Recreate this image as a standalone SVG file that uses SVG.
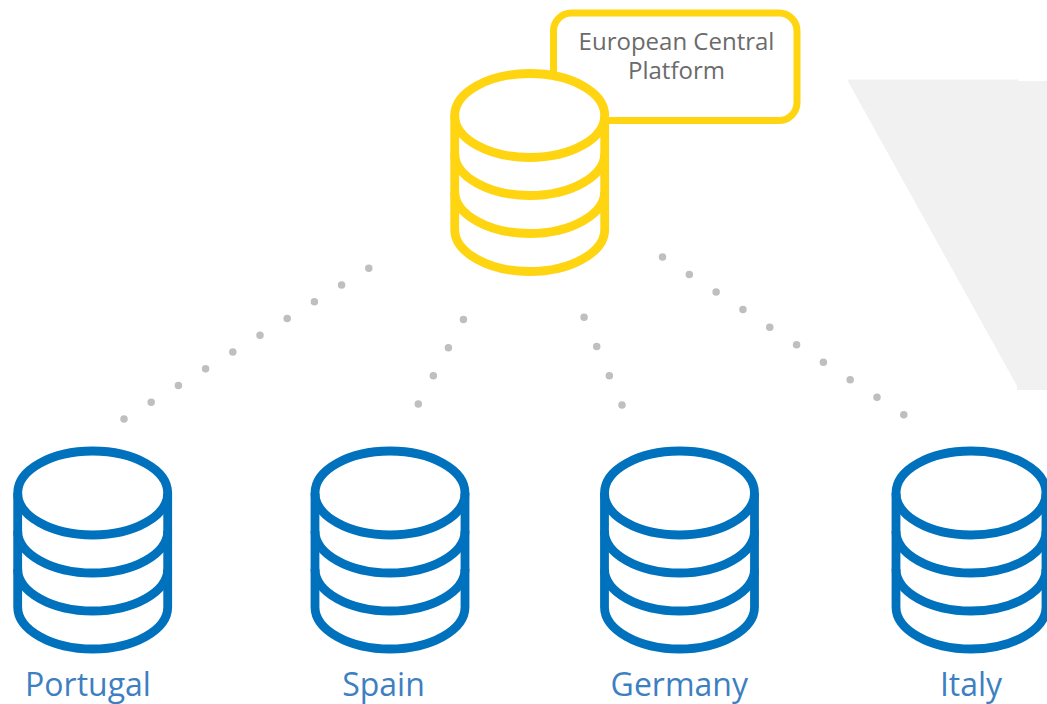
<svg xmlns="http://www.w3.org/2000/svg" width="1047" height="704" viewBox="0 0 1047 704">
<style>
.cyl{fill:none;stroke-width:8.800}
.y{stroke:#ffd512}
.b{stroke:#0071bc}
.dots{fill:none;stroke:#bfbfbf;stroke-width:7.500;stroke-linecap:round}
text{font-family:"Open Sans","Noto Sans","Liberation Sans",sans-serif;text-anchor:middle}
.lbl{font-size:32px;fill:#3d7fc1}
.plat{font-size:24px;fill:#6b6b6b}
</style>
<defs>
<g id="cyl" class="cyl">
<ellipse cx="0" cy="0" rx="75" ry="42"/>
<path d="M-75 0V114C-75 137 -41 156 0 156S75 137 75 114V0"/>
<path d="M-75 38C-75 61 -41 80 0 80S75 61 75 38"/>
<path d="M-75 76C-75 99 -41 118 0 118S75 99 75 76"/>
</g>
</defs>
<rect width="1047" height="704" fill="#fff"/>
<polygon id="backdrop" points="847,79.500 1018,79.500 1018,81 1047,81 1047,390 1017,390 1017,386" fill="#f1f1f1"/>
<g id="connectors" class="dots">
<line x1="124" y1="419" x2="369" y2="268" stroke-dasharray="0 31.950"/>
<line x1="418.300" y1="404" x2="463.500" y2="319.500" stroke-dasharray="0 31.900"/>
<line x1="622" y1="405" x2="584" y2="317" stroke-dasharray="0 31.900"/>
<line x1="662.500" y1="257" x2="904" y2="415" stroke-dasharray="0 32.040"/>
</g>
<g id="platform">
<path d="M553.500 72V31A18 18 0 0 1 571.500 13H779A18 18 0 0 1 797 31V102.500A18 18 0 0 1 779 120.500H607" fill="none" stroke="#ffd512" stroke-width="7"/>
<text class="plat" x="676.500" y="50">European Central</text>
<text class="plat" x="676.500" y="79">Platform</text>
<use href="#cyl" class="y" x="529.700" y="115.500"/>
</g>
<g id="portugal"><use href="#cyl" class="b" x="92.700" y="493"/><text class="lbl" x="88" y="696">Portugal</text></g>
<g id="spain"><use href="#cyl" class="b" x="390" y="493"/><text class="lbl" x="383.500" y="696">Spain</text></g>
<g id="germany"><use href="#cyl" class="b" x="679.500" y="493"/><text class="lbl" x="679.300" y="696">Germany</text></g>
<g id="italy"><use href="#cyl" class="b" x="971" y="493"/><text class="lbl" x="971" y="696">Italy</text></g>
</svg>
